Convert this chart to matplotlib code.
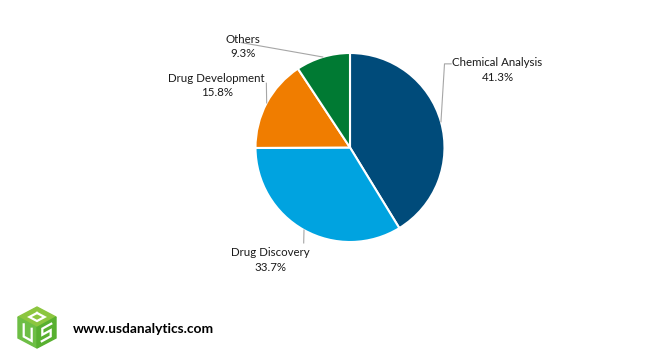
import numpy as np
import matplotlib
matplotlib.use("Agg")
import matplotlib.pyplot as plt
from matplotlib.patches import Polygon

plt.rcParams['font.family'] = ['Lato', 'DejaVu Sans']

# data
categories = ["Chemical Analysis", "Drug Discovery", "Drug Development", "Others"]
shares = [41.3, 33.7, 15.8, 9.3]
colors = ["#004B7A", "#00A3E0", "#F07D00", "#007A33"]

# label anchors (in pie radius units) and leader line bend points
label_pos = [(1.56, 0.82), (-0.84, -1.19), (-1.41, 0.66), (-1.13, 1.07)]
bends = [[(1.0, 0.885), (1.07, 0.885)],
         [(-0.49, -1.01)],
         [(-0.885, 0.68)],
         [(-1.15, 1.11)]]

fig = plt.figure(figsize=(6.59, 3.61), dpi=100)
W, H = 659, 361
cx, cy, r = 350, 147.5, 94.5
ax = fig.add_axes([(cx - r) / W, 1 - (cy + r) / H, 2 * r / W, 2 * r / H])
wedges, _ = ax.pie(shares, colors=colors, startangle=90, counterclock=False,
                   wedgeprops=dict(edgecolor="white", linewidth=1.5))
ax.set_xlim(-1, 1)
ax.set_ylim(-1, 1)
ax.set_aspect("auto")
ax.axis("off")

total = sum(shares)
start = 90.0
for i, (cat, val) in enumerate(zip(categories, shares)):
    mid = np.deg2rad(start - val / total * 360 / 2)
    start -= val / total * 360
    p0 = (np.cos(mid), np.sin(mid))
    pts = [p0] + bends[i]
    xs, ys = zip(*pts)
    ax.plot(xs, ys, color="#A6A6A6", lw=0.8, clip_on=False)
    ax.text(label_pos[i][0], label_pos[i][1], "%s\n%.1f%%" % (cat, val),
            ha="center", va="center", fontsize=8.3, color="#1a1a1a",
            linespacing=1.35, clip_on=False)

# logo + url in pixel coordinates
lax = fig.add_axes([0, 0, 1, 1], zorder=-1)
lax.set_xlim(0, W)
lax.set_ylim(H, 0)
lax.axis("off")

c = np.array([37, 327.5])
top, ur, lr = np.array([37, 307]), np.array([56, 317]), np.array([56, 338])
bot, ll, ul = np.array([37, 348]), np.array([18, 338]), np.array([18, 317])
lax.add_patch(Polygon([top, ur, c, ul], closed=True, color="#8CC63F"))
lax.add_patch(Polygon([ul, c, bot, ll], closed=True, color="#6DBE45"))
lax.add_patch(Polygon([c, ur, lr, bot], closed=True, color="#58B030"))


def face(o, a, b, pts):
    return [o + s * (a - o) + t * (b - o) for s, t in pts]


# "O" on top, "U" on left, "S" on right
o_pts = face(top, ul, ur, [(0.3, 0.3), (0.7, 0.3), (0.7, 0.7), (0.3, 0.7), (0.3, 0.3)])
u_pts = face(ul, c, ll, [(0.3, 0.2), (0.3, 0.78), (0.72, 0.78), (0.72, 0.2)])
s_pts = face(c, ur, bot, [(0.75, 0.2), (0.28, 0.2), (0.28, 0.5), (0.72, 0.5),
                          (0.72, 0.8), (0.25, 0.8)])
for pts in (o_pts, u_pts, s_pts):
    xs, ys = zip(*pts)
    lax.plot(xs, ys, color="white", lw=1.6, solid_joinstyle="miter")

lax.text(73, 329, "www.usdanalytics.com", fontsize=9.9, fontweight="bold",
         color="black", ha="left", va="center")

fig.savefig("out.png", dpi=100, facecolor="white")
